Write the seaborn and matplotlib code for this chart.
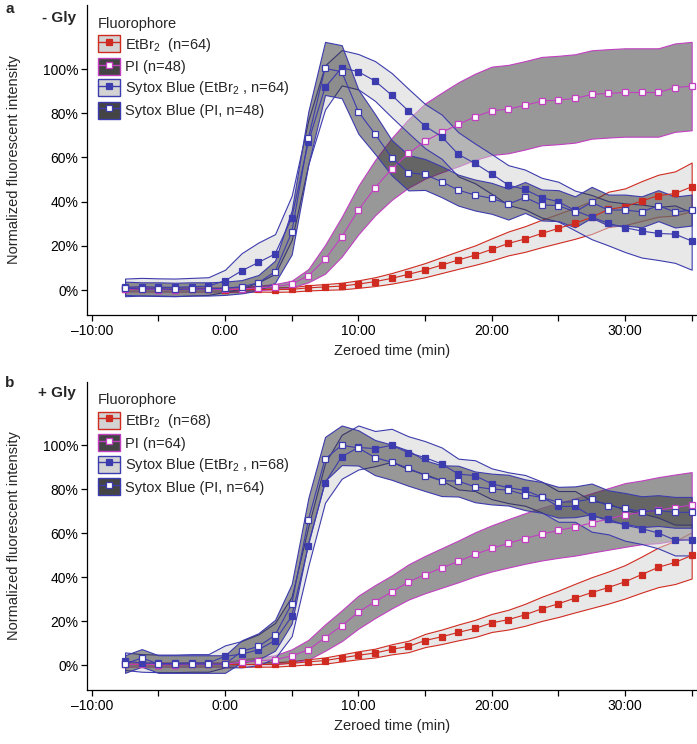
import numpy as np
import matplotlib
matplotlib.use("Agg")
import matplotlib.pyplot as plt
from matplotlib.patches import Patch
from matplotlib.lines import Line2D
from matplotlib.colors import to_rgba
import seaborn as sns

# sampling grid (min, zeroed)
time_min = np.arange(-7.5, 35.01, 1.25)

# --- panel a : - Gly ---
etbr_a = [0.5, 0.4, 0.3, 0.2, 0.3, 0.3, 0.2, 0.3, 0.3, 0.2, 0.3, 1.0, 1.4, 1.8, 2.7, 3.8, 5.3, 7.1, 9.0,
          11.3, 13.6, 15.8, 18.4, 21.1, 23.1, 25.6, 27.9, 30.2, 32.9, 36.5, 37.7, 40.3, 42.7, 43.7, 46.7]
etbr_a_sd = [1, 1, 1, 1, 1, 1, 1, 1, 1, 1, 1, 1.2, 1.3, 1.5, 1.7, 2, 2.4, 2.8, 3.2, 3.6, 4, 4.4, 5, 5.4,
             5.8, 6.2, 6.6, 7, 7.5, 8, 8.3, 9, 9.5, 10, 11]
pi_a = [0.3, 0.5, 0.2, 0.2, 0.3, 0.3, 0.3, 0.5, 1.0, 1.5, 2.7, 6.5, 13.9, 24.1, 36.2, 46.3, 54.8, 61.8, 67.4,
        71.3, 75.0, 78.4, 81.1, 81.9, 83.6, 85.5, 86.0, 86.7, 88.5, 89.0, 89.4, 89.4, 89.4, 91.6, 92.3]
pi_a_sd = [1, 1, 1, 1, 1, 1, 1, 1, 1, 1.2, 1.5, 3, 6.5, 9, 11, 12.5, 14, 15.5, 17, 18, 19, 19.5, 20, 20,
           20, 20, 20, 20, 20, 20, 20, 20, 20, 20, 20]
sb_etbr_a = [1.2, 1.5, 1.3, 1.2, 1.5, 1.8, 4.2, 8.7, 12.5, 16.3, 32.7, 67.0, 91.7, 100.6, 98.8, 94.6, 88.2,
             81.1, 74.2, 69.4, 61.4, 57.3, 52.5, 47.5, 45.5, 41.8, 40.0, 36.0, 33.0, 30.2, 28.2, 26.7, 25.6,
             25.3, 22.2]
sb_etbr_a_sd = [4, 4, 4, 4, 4, 4, 5, 8, 9, 9, 10, 10, 10, 8, 8, 9, 10, 10, 10, 10, 10, 9, 9, 9, 9, 9, 9,
                9, 10, 10, 11, 12, 12, 13, 13]
sb_pi_a = [0.8, 0.5, 0.5, 0.3, 0.5, 0.5, 0.8, 1.5, 3.3, 8.3, 26.1, 68.9, 100.3, 98.8, 80.7, 70.6, 59.9,
           53.1, 52.3, 49.0, 45.2, 43.0, 41.5, 38.9, 41.9, 38.5, 38.2, 35.4, 39.7, 36.2, 36.2, 35.4, 38.2,
           35.3, 36.2]
sb_pi_a_sd = [3, 3, 3, 3, 3, 3, 3, 3, 3.5, 5, 10, 12, 12, 12, 10, 9, 8, 8, 7, 7, 7, 7, 7, 7, 7, 7, 7, 7,
              7, 7, 7, 7, 7, 7, 7]

# --- panel b : + Gly ---
etbr_b = [0.3, 0.3, 0.2, 0.2, 0.3, 0.3, 0.3, 0.3, 0.3, 0.3, 0.8, 1.5, 2.1, 3.3, 4.5, 5.5, 7.2, 8.5, 11.2,
          12.9, 14.9, 16.7, 19.2, 20.7, 22.9, 25.6, 27.9, 30.5, 33.0, 35.3, 37.9, 41.2, 44.5, 46.7, 49.9]
etbr_b_sd = [1, 1, 1, 1, 1, 1, 1, 1, 1, 1, 1, 1.2, 1.4, 1.6, 1.8, 2, 2.3, 2.6, 3, 3.3, 3.6, 3.9, 4.1, 4.5,
             5, 5.5, 6, 6.5, 7, 7.3, 7.6, 8.2, 9, 9.8, 10.5]
pi_b = [0.3, 0.5, 0.2, 0.2, 0.3, 0.3, 0.3, 1.5, 2.0, 2.5, 4.2, 7.0, 12.5, 17.9, 24.1, 28.9, 33.3, 37.8,
        41.2, 44.2, 47.2, 50.4, 53.1, 55.4, 57.6, 59.6, 61.3, 62.8, 64.7, 66.5, 68.3, 69.5, 70.5, 71.7, 72.8]
pi_b_sd = [1, 1, 1, 1, 1, 1, 1, 1.2, 1.5, 2, 3, 4.5, 6, 7, 7.5, 7.5, 7.5, 8, 8.5, 9, 9.5, 10, 10.5, 11,
           11.5, 12, 12.5, 13, 13.5, 14, 14.5, 14.5, 15, 15, 15]
sb_etbr_b = [1.8, 1.0, 0.8, 0.8, 1.0, 1.0, 4.0, 5.0, 7.0, 11.2, 22.2, 54.2, 82.9, 94.8, 99.0, 98.5, 100.0,
             96.6, 94.4, 91.5, 86.9, 86.2, 82.5, 80.7, 79.5, 76.5, 72.2, 72.2, 67.7, 66.5, 63.6, 62.1, 60.1,
             56.9, 56.9]
sb_etbr_b_sd = [4, 4, 4, 4, 4, 4, 5, 6, 7, 8, 9, 9, 9, 10, 10, 8, 7.5, 7.5, 7.5, 7.5, 7, 7, 7, 7, 7, 7, 7,
                7, 7, 7, 7, 7, 7, 7, 7]
sb_pi_b = [0.5, 3.3, 0.5, 0.5, 0.5, 0.5, 0.5, 6.3, 8.5, 13.6, 27.9, 66.1, 93.8, 100.0, 98.8, 94.4, 92.3,
           89.6, 86.2, 83.9, 83.7, 81.1, 80.1, 79.6, 77.5, 76.3, 74.1, 74.3, 75.6, 72.5, 71.3, 69.8, 70.3,
           69.5, 69.5]
sb_pi_b_sd = [4, 4, 4, 4, 4, 4, 4, 5, 6, 7, 9, 10, 10, 9, 8, 8, 8, 8, 7, 7, 7, 7, 7, 7, 7, 7, 7, 7, 7, 7,
              7, 7, 7, 7, 7]

labels_a = ["EtBr$_2$  (n=64)", "PI (n=48)", "Sytox Blue (EtBr$_2$ , n=64)", "Sytox Blue (PI, n=48)"]
labels_b = ["EtBr$_2$  (n=68)", "PI (n=64)", "Sytox Blue (EtBr$_2$ , n=68)", "Sytox Blue (PI, n=64)"]

x_ticks = [-10, 0, 10, 20, 30]
x_tick_labels = ["\u201310:00", "0:00", "10:00", "20:00", "30:00"]
y_ticks = [0, 20, 40, 60, 80, 100]

sns.set_style("ticks")
plt.rcParams["font.family"] = ["Liberation Sans", "DejaVu Sans"]
plt.rcParams["mathtext.fontset"] = "custom"
plt.rcParams["mathtext.rm"] = "Liberation Sans"
plt.rcParams["mathtext.it"] = "Liberation Sans:italic"

RED = "#d02b21"
PINK = "#c23fc2"
BLUE = "#3d3cae"
LIGHT = "#d3d3d3"
DARK = "#333333"
LEG_DARK = "#444444"

# (line colour, band colour, marker face)
styles = [(RED, LIGHT, RED), (PINK, DARK, "white"), (BLUE, LIGHT, BLUE), (BLUE, DARK, "white")]


def draw_panel(ax, series, labels):
    # ribbons first, then lines and markers on top
    for (mean, sd), (lc, bc, mf) in zip(series, styles):
        m = np.array(mean)
        s = np.array(sd)
        ax.fill_between(time_min, m - s, m + s, facecolor=to_rgba(bc, 0.5),
                        edgecolor=lc, linewidth=0.8, zorder=1)
    for (mean, sd), (lc, bc, mf) in zip(series, styles):
        sns.lineplot(x=time_min, y=mean, ax=ax, color=lc, linewidth=0.8, marker="s",
                     markersize=4.6, markerfacecolor=mf, markeredgecolor=lc,
                     markeredgewidth=0.9, zorder=3)

    ax.set_xlim(-10.33, 35.4)
    ax.set_ylim(-11.3, 129)
    ax.set_xticks(x_ticks)
    ax.set_xticklabels(x_tick_labels)
    ax.set_xticks([-5, 5, 15, 25, 35], minor=True)
    ax.set_yticks(y_ticks)
    ax.set_yticklabels([f"{v}%" for v in y_ticks])
    ax.tick_params(which="both", direction="out", length=4, width=0.9, labelsize=10, pad=2.5,
                   color="black", labelcolor="black")
    sns.despine(ax=ax)
    for sp in ["left", "bottom"]:
        ax.spines[sp].set_linewidth(0.9)
        ax.spines[sp].set_color("black")
    ax.set_xlabel("Zeroed time (min)", fontsize=10.5, labelpad=4)
    ax.set_ylabel("Normalized fluorescent intensity", fontsize=10.5)
    ax.yaxis.set_label_coords(-0.108, 0.5)

    handles = []
    for lc, bc, mf in styles:
        face = LEG_DARK if bc == DARK else bc
        handles.append((Patch(facecolor=face, edgecolor=lc, linewidth=1.0),
                        Line2D([], [], color=lc, linewidth=1.0, marker="s", markersize=4.6,
                               markerfacecolor=mf, markeredgecolor=lc, markeredgewidth=0.9)))
    ax.legend(handles, labels, title="Fluorophore", loc="upper left",
              bbox_to_anchor=(0.005, 0.985), frameon=False, fontsize=10.5, title_fontsize=10.5,
              handlelength=1.5, handleheight=1.4, handletextpad=0.35, labelspacing=0.3,
              borderaxespad=0.3, borderpad=0.2, alignment="left")


fig = plt.figure(figsize=(6.97, 7.44), dpi=100)
ax_a = fig.add_axes([0.1253, 0.5766, 0.8747, 0.4167])
ax_b = fig.add_axes([0.1253, 0.0726, 0.8747, 0.4146])

draw_panel(ax_a, [(etbr_a, etbr_a_sd), (pi_a, pi_a_sd), (sb_etbr_a, sb_etbr_a_sd), (sb_pi_a, sb_pi_a_sd)],
           labels_a)
draw_panel(ax_b, [(etbr_b, etbr_b_sd), (pi_b, pi_b_sd), (sb_etbr_b, sb_etbr_b_sd), (sb_pi_b, sb_pi_b_sd)],
           labels_b)

fig.text(5 / 697, 1 - 9 / 744, "a", fontsize=11, fontweight="bold", va="center", ha="left")
fig.text(76 / 697, 1 - 18 / 744, "- Gly", fontsize=11, fontweight="bold", va="center", ha="right")
fig.text(5 / 697, 1 - 383 / 744, "b", fontsize=11, fontweight="bold", va="center", ha="left")
fig.text(76 / 697, 1 - 393 / 744, "+ Gly", fontsize=11, fontweight="bold", va="center", ha="right")

fig.savefig("out.png", dpi=100)
